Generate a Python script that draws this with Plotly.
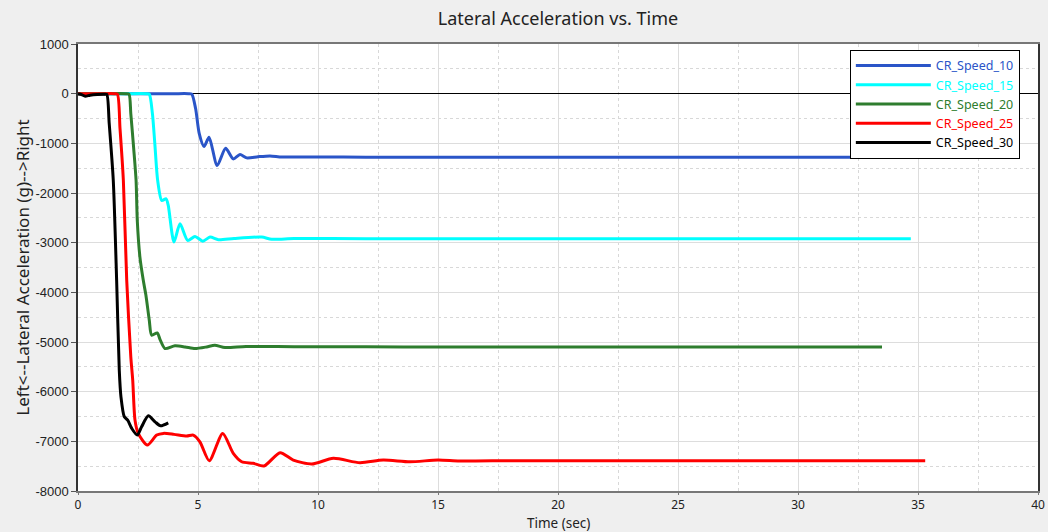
import plotly.graph_objects as go

title_text = "Lateral Acceleration vs. Time"
x_title = "Time (sec)"
y_title = "Left<--Lateral Acceleration (g)-->Right"

names = ["CR_Speed_10", "CR_Speed_15", "CR_Speed_20", "CR_Speed_25", "CR_Speed_30"]
colors = ["#2a55c8", "#00ffff", "#2e7d2e", "#ff0000", "#000000"]

t10 = [0, 1, 2, 3, 4, 4.6, 4.74, 4.9, 5.05, 5.25, 5.46, 5.8, 6.15, 6.47, 6.75, 7.03, 7.5, 8.0, 8.5, 10, 12, 15, 20, 25, 30, 36.8]
y10 = [0, 0, 0, 0, 0, 0, -10, -300, -800, -1065, -878, -1447, -1099, -1313, -1226, -1293, -1270, -1253, -1275, -1275, -1278, -1280, -1280, -1280, -1280, -1280]

t15 = [0, 1, 2, 2.85, 2.97, 3.1, 3.2, 3.32, 3.49, 3.67, 3.76, 4.0, 4.25, 4.57, 4.875, 5.2, 5.5, 5.85, 6.5, 7.65, 8.07, 9, 12, 15, 20, 25, 30, 34.7]
y15 = [0, 0, 0, 0, -10, -400, -1000, -1749, -2151, -2117, -2251, -2989, -2620, -2955, -2874, -2969, -2888, -2941, -2915, -2888, -2930, -2918, -2920, -2920, -2920, -2920, -2920, -2920]

t20 = [0, 1, 2, 2.125, 2.2, 2.32, 2.42, 2.47, 2.58, 2.72, 2.83, 2.97, 3.07, 3.3, 3.42, 3.625, 4.04, 4.46, 4.875, 5.36, 5.7, 6.125, 7, 9, 12, 15, 20, 25, 30, 33.5]
y20 = [0, 0, 0, -10, -400, -1100, -1749, -2553, -3290, -3759, -4060, -4563, -4864, -4817, -4951, -5132, -5078, -5099, -5132, -5099, -5065, -5112, -5090, -5095, -5098, -5100, -5100, -5100, -5100, -5100]

t25 = [0, 1, 1.5, 1.64, 1.75, 1.89, 2.03, 2.2, 2.28, 2.375, 2.51, 2.89, 3.28, 3.56, 4.0, 4.53, 4.8, 5.08, 5.47, 6.03, 6.47, 6.82, 7.3, 7.75, 8.42, 8.97, 9.74, 10.64, 11.75, 12.72, 13.83, 15.0, 15.9, 18, 20, 25, 30, 35.3]
y25 = [0, 0, 0, -10, -700, -1749, -3759, -5300, -5769, -6573, -6840, -7075, -6874, -6840, -6860, -6894, -6874, -7009, -7390, -6840, -7242, -7411, -7443, -7497, -7230, -7377, -7457, -7343, -7431, -7377, -7411, -7377, -7397, -7390, -7390, -7390, -7390, -7390]

t30 = [0, 0.15, 0.3, 0.5, 0.8, 1.1, 1.2, 1.3, 1.47, 1.61, 1.72, 1.79, 1.93, 2.07, 2.24, 2.47, 2.65, 2.93, 3.21, 3.44, 3.76]
y30 = [0, -20, -50, -30, -15, -10, -15, -600, -1749, -3759, -5568, -6104, -6506, -6573, -6740, -6874, -6707, -6486, -6607, -6687, -6627]

series_t = [t10, t15, t20, t25, t30]
series_y = [y10, y15, y20, y25, y30]

x_ticks = [0, 5, 10, 15, 20, 25, 30, 35, 40]
y_ticks = [1000, 0, -1000, -2000, -3000, -4000, -5000, -6000, -7000, -8000]

font_family = "Noto Sans"

fig = go.Figure()
for name, col, tx, ty in zip(names, colors, series_t, series_y):
    fig.add_trace(go.Scatter(
        x=tx, y=ty, mode="lines",
        name=f"<span style='color:{col}'>{name}</span>",
        line=dict(color=col, width=3, shape="spline", smoothing=0.7),
    ))

fig.update_layout(
    width=1048, height=532,
    margin=dict(l=78, r=10, t=44, b=41),
    paper_bgcolor="#efefef",
    plot_bgcolor="#ffffff",
    font=dict(family=font_family, size=13, color="#222222"),
    title=dict(text=title_text, xref="paper", x=0.5, xanchor="center", y=0.964, yanchor="middle",
               font=dict(size=18, color="#222222")),
    showlegend=True,
    legend=dict(x=0.804, y=0.987, xanchor="left", yanchor="top",
                bgcolor="#ffffff", bordercolor="#000000", borderwidth=1,
                font=dict(size=12.5), itemwidth=75, tracegroupgap=0),
    annotations=[dict(text=x_title, xref="paper", yref="paper", x=0.5, y=0,
                      xanchor="center", yanchor="top", yshift=-22, showarrow=False,
                      borderpad=0, font=dict(size=13.5, color="#222222"))],
)

fig.update_xaxes(
    range=[0, 40], tickvals=x_ticks, ticktext=[str(v) for v in x_ticks],
    showgrid=True, gridcolor="#dddddd", gridwidth=1,
    minor=dict(dtick=2.5, showgrid=True, gridcolor="#d8d8d8", griddash="dot", gridwidth=1),
    showline=True, linecolor="#777777", linewidth=2, mirror=True,
    ticks="outside", ticklen=2, tickcolor="#777777",
    zeroline=False, automargin=False,
    tickfont=dict(size=12),
)
fig.update_yaxes(
    range=[-8000, 1000], tickvals=y_ticks, ticktext=[str(v) for v in y_ticks],
    showgrid=True, gridcolor="#dddddd", gridwidth=1,
    minor=dict(dtick=500, showgrid=True, gridcolor="#d8d8d8", griddash="dot", gridwidth=1),
    showline=True, linecolor="#333333", linewidth=1.5, mirror=True,
    ticks="outside", ticklen=5, tickcolor="#555555",
    zeroline=True, zerolinecolor="#000000", zerolinewidth=1,
    automargin=False,
    title=dict(text=y_title, standoff=1, font=dict(size=17)),
    tickfont=dict(size=13, family="Liberation Sans"),
)

fig.write_html("out.html")
